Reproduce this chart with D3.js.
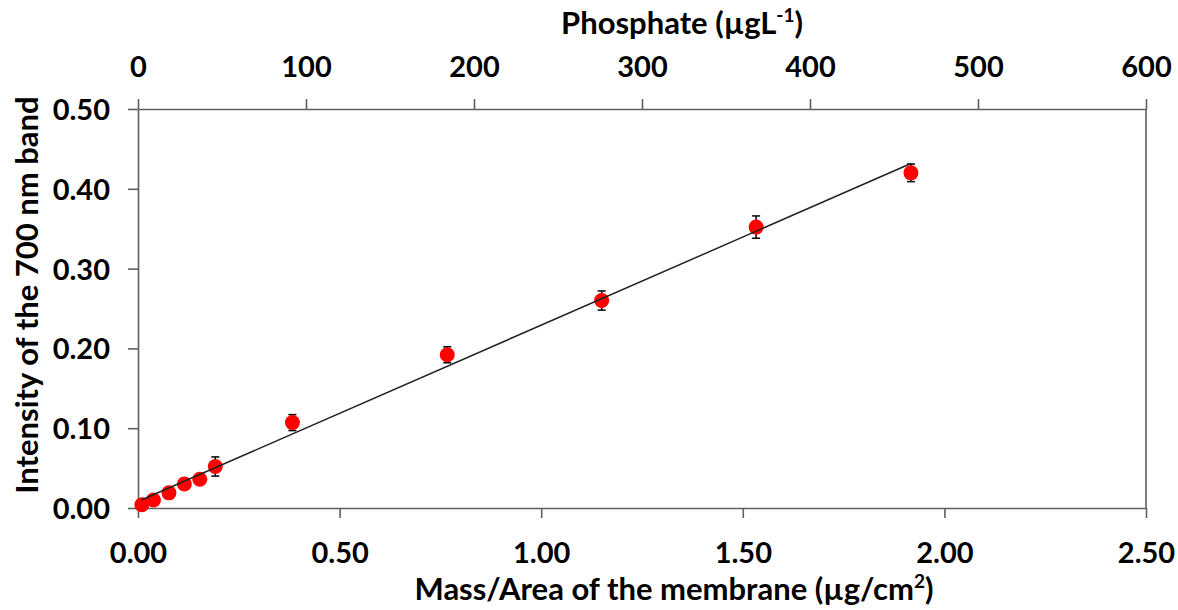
<!DOCTYPE html>
<html>
<head>
<meta charset="utf-8">
<script src="https://cdn.jsdelivr.net/npm/d3@7"></script>
<style>
  html, body { margin: 0; padding: 0; background: #fff; }
  svg { display: block; font-family: Lato, "Open Sans", sans-serif; font-weight: 700; }
  .axis path, .axis line { stroke: #606060; stroke-width: 1.6; }
  .axis text { font-size: 29px; font-weight: 700; fill: #000; font-family: Lato, sans-serif; }
</style>
</head>
<body>
<svg id="chart" width="1178" height="610"></svg>
<script>
// Mass per membrane area (µg/cm²) and measured 700 nm band intensity
const massPerArea = [0.0096, 0.0383, 0.0767, 0.115, 0.1533, 0.1917, 0.383, 0.767, 1.15, 1.533, 1.917];
const intensity   = [0.004, 0.010, 0.019, 0.030, 0.036, 0.052, 0.107, 0.192, 0.260, 0.352, 0.420];
const intensityErr = [0.002, 0.002, 0.002, 0.002, 0.002, 0.012, 0.010, 0.010, 0.012, 0.014, 0.011];

// Linear calibration line
const fitSlope = 0.2209;
const fitIntercept = 0.0082;

// Axis ticks
const xTicks = [0, 0.5, 1.0, 1.5, 2.0, 2.5];
const yTicks = [0, 0.1, 0.2, 0.3, 0.4, 0.5];
const phosphateTicks = [0, 100, 200, 300, 400, 500, 600];

const margin = { left: 138, right: 1146, top: 109, bottom: 508 };
const svg = d3.select("#chart");

const x = d3.scaleLinear().domain([0, 2.5]).range([margin.left, margin.right]);
const y = d3.scaleLinear().domain([0, 0.5]).range([margin.bottom, margin.top]);
const xTop = d3.scaleLinear().domain([0, 600]).range([margin.left, margin.right]);

// Right frame line
svg.append("line")
  .attr("x1", margin.right).attr("x2", margin.right)
  .attr("y1", margin.top).attr("y2", margin.bottom)
  .attr("stroke", "#606060").attr("stroke-width", 1.6);

// Bottom axis
const gx = svg.append("g").attr("class", "axis")
  .attr("transform", `translate(0,${margin.bottom})`)
  .call(d3.axisBottom(x).tickValues(xTicks).tickSize(10).tickSizeOuter(0)
        .tickFormat(d3.format(".2f")));
gx.selectAll("text").attr("y", 55).attr("dy", 0);

// Top axis
const gt = svg.append("g").attr("class", "axis")
  .attr("transform", `translate(0,${margin.top})`)
  .call(d3.axisTop(xTop).tickValues(phosphateTicks).tickSize(10).tickSizeOuter(0)
        .tickFormat(d3.format("d")));
gt.selectAll("text").attr("y", -32).attr("dy", 0);

// Left axis
const gy = svg.append("g").attr("class", "axis")
  .attr("transform", `translate(${margin.left},0)`)
  .call(d3.axisLeft(y).tickValues(yTicks).tickSize(10).tickSizeOuter(0)
        .tickFormat(d3.format(".2f")));
gy.selectAll("text").attr("x", -28).attr("dy", "0.36em");

const points = massPerArea.map((m, i) => ({ m, v: intensity[i], e: intensityErr[i] }));

// Error bars
const eb = svg.append("g").attr("stroke", "#000").attr("stroke-width", 1.5);
points.forEach(p => {
  eb.append("line").attr("x1", x(p.m)).attr("x2", x(p.m))
    .attr("y1", y(p.v - p.e)).attr("y2", y(p.v + p.e));
  [p.v - p.e, p.v + p.e].forEach(val => {
    eb.append("line").attr("x1", x(p.m) - 4).attr("x2", x(p.m) + 4)
      .attr("y1", y(val)).attr("y2", y(val));
  });
});

// Markers
svg.append("g").selectAll("circle").data(points).join("circle")
  .attr("cx", d => x(d.m)).attr("cy", d => y(d.v)).attr("r", 7.5)
  .attr("fill", "#ff0000");

// Calibration line over the measured range
const xr = d3.extent(massPerArea);
svg.append("line")
  .attr("x1", x(xr[0])).attr("y1", y(fitIntercept + fitSlope * xr[0]))
  .attr("x2", x(xr[1])).attr("y2", y(fitIntercept + fitSlope * xr[1]))
  .attr("stroke", "#222").attr("stroke-width", 1.5);

// Axis titles
const xTitle = svg.append("text")
  .attr("x", 674).attr("y", 600).attr("text-anchor", "middle")
  .attr("font-size", 31).attr("fill", "#000");
xTitle.append("tspan").text("Mass/Area of the membrane (µg/cm");
xTitle.append("tspan").attr("font-size", 19).attr("dy", -12).text("2");
xTitle.append("tspan").attr("dy", 12).text(")");

const topTitle = svg.append("text")
  .attr("x", 682).attr("y", 34).attr("text-anchor", "middle")
  .attr("font-size", 31).attr("fill", "#000");
topTitle.append("tspan").text("Phosphate (µgL");
topTitle.append("tspan").attr("font-size", 19).attr("dy", -12).text("-1");
topTitle.append("tspan").attr("dy", 12).text(")");

svg.append("text")
  .attr("transform", "translate(38,295) rotate(-90)")
  .attr("text-anchor", "middle").attr("font-size", 31).attr("fill", "#000")
  .text("Intensity of the 700 nm band");
</script>
</body>
</html>
